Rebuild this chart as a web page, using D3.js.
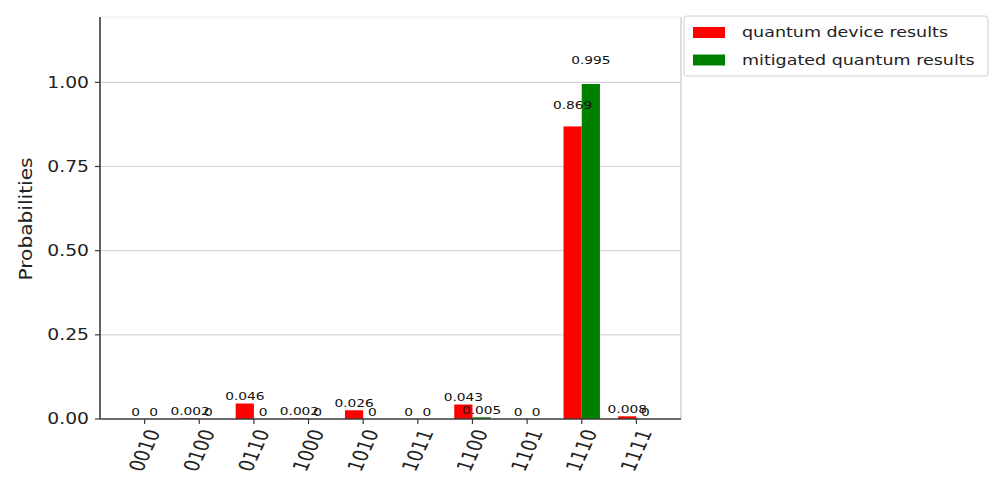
<!DOCTYPE html>
<html>
<head>
<meta charset="utf-8">
<script src="https://cdn.jsdelivr.net/npm/d3@7"></script>
<style>
  html, body { margin: 0; padding: 0; background: #fff; }
  svg { display: block; font-family: "DejaVu Sans", sans-serif; }
</style>
</head>
<body>
<svg id="chart" width="990" height="486"></svg>
<script>
// Measured basis states
const states = ["0010", "0100", "0110", "1000", "1010", "1011", "1100", "1101", "1110", "1111"];
// Raw device probabilities
const deviceValues = [0, 0.002, 0.046, 0.002, 0.026, 0, 0.043, 0, 0.869, 0.008];
// Error-mitigated probabilities
const mitigatedValues = [0, 0, 0, 0, 0, 0, 0.005, 0, 0.995, 0];
const seriesNames = ["quantum device results", "mitigated quantum results"];
const seriesColors = ["#ff0000", "#008000"];
const yTicks = [0, 0.25, 0.5, 0.75, 1.0];

const series = [deviceValues, mitigatedValues];
const nSeries = series.length;
const barW = 1 / (nSeries + 1);           // bar width in category units
const barCenterOffset = (barW / 2) * (nSeries - 1);

// Text is drawn slightly wide
const SX = 1.25;

const plot = { left: 100, right: 681, top: 17, bottom: 419 };

const svg = d3.select("#chart");

const yMax = d3.max(series.flat()) * 1.2;
const y = d3.scaleLinear().domain([0, yMax]).range([plot.bottom, plot.top]);

// x extent: bars span [-w/2, n-1 + (nSeries-1)*w + w/2], plus 5% margins
const xMinData = -barW / 2;
const xMaxData = (states.length - 1) + (nSeries - 1) * barW + barW / 2;
const pad = (xMaxData - xMinData) * 0.05;
const x = d3.scaleLinear().domain([xMinData - pad, xMaxData + pad]).range([plot.left, plot.right]);

// horizontal grid
svg.append("g")
  .selectAll("line")
  .data(yTicks.filter(t => t > 0))
  .join("line")
  .attr("x1", plot.left).attr("x2", plot.right)
  .attr("y1", d => y(d)).attr("y2", d => y(d))
  .attr("stroke", "#d4d4d4").attr("stroke-width", 1.2);

// light top/right frame
svg.append("line")
  .attr("x1", plot.left).attr("x2", plot.right)
  .attr("y1", plot.top).attr("y2", plot.top)
  .attr("stroke", "#ececec").attr("stroke-width", 1);
svg.append("line")
  .attr("x1", plot.right).attr("x2", plot.right)
  .attr("y1", plot.top).attr("y2", plot.bottom)
  .attr("stroke", "#c8c8c8").attr("stroke-width", 1.2);

// bars
series.forEach((vals, si) => {
  svg.append("g")
    .selectAll("rect")
    .data(vals.map((v, i) => ({ v, i })))
    .join("rect")
    .attr("x", d => x(d.i + si * barW - barW / 2))
    .attr("width", d => x(d.i + si * barW + barW / 2) - x(d.i + si * barW - barW / 2))
    .attr("y", d => y(d.v))
    .attr("height", d => y(0) - y(d.v))
    .attr("fill", seriesColors[si]);
});

// value labels above bars
series.forEach((vals, si) => {
  svg.append("g")
    .selectAll("text")
    .data(vals.map((v, i) => ({ v, i })))
    .join("text")
    .attr("transform", d => `translate(${x(d.i + si * barW)},${y(1.05 * d.v) - 3}) scale(${SX},1)`)
    .attr("text-anchor", "middle")
    .attr("font-size", 11)
    .attr("fill", "#111")
    .text(d => d.v >= 1e-3 ? d.v.toFixed(3) : "0");
});

// y axis
const yAxis = svg.append("g").attr("transform", `translate(${plot.left},0)`);
yAxis.append("line")
  .attr("x1", 0).attr("x2", 0).attr("y1", plot.top).attr("y2", plot.bottom)
  .attr("stroke", "#3a3a3a").attr("stroke-width", 1.6);
const yt = yAxis.selectAll("g.tick").data(yTicks).join("g")
  .attr("class", "tick")
  .attr("transform", d => `translate(0,${y(d)})`);
yt.append("line").attr("x1", -5).attr("x2", 0).attr("stroke", "#3a3a3a").attr("stroke-width", 1.2);
yt.append("text")
  .attr("transform", `translate(-11,0) scale(${SX},1)`)
  .attr("text-anchor", "end")
  .attr("dy", "0.36em")
  .attr("font-size", 15)
  .attr("fill", "#222")
  .text(d => d3.format(".2f")(d));

svg.append("text")
  .attr("transform", `translate(32,219) rotate(-90) scale(1.12,1)`)
  .attr("text-anchor", "middle")
  .attr("font-size", 18)
  .attr("fill", "#222")
  .text("Probabilities");

// x axis
const xAxis = svg.append("g");
xAxis.append("line")
  .attr("x1", plot.left).attr("x2", plot.right).attr("y1", plot.bottom).attr("y2", plot.bottom)
  .attr("stroke", "#3a3a3a").attr("stroke-width", 1.6);
const xt = xAxis.selectAll("g.tick").data(states).join("g")
  .attr("class", "tick")
  .attr("transform", (d, i) => `translate(${x(i + barCenterOffset)},${plot.bottom})`);
xt.append("line").attr("y1", 0).attr("y2", 5).attr("stroke", "#3a3a3a").attr("stroke-width", 1.2);

const xFont = 17;
const ang = 70 * Math.PI / 180;
xt.append("text")
  .attr("font-size", xFont)
  .attr("fill", "#222")
  .attr("text-anchor", "middle")
  .attr("dominant-baseline", "central")
  .text(d => d)
  .attr("transform", function () {
    const L = this.getComputedTextLength();
    const h = xFont * 0.75;
    const ext = L * Math.sin(ang) + h * Math.cos(ang);
    return `translate(0,${9 + ext / 2}) scale(${SX},1) rotate(-70)`;
  });

// legend
const lg = svg.append("g");
lg.append("rect")
  .attr("x", 684).attr("y", 16).attr("width", 304).attr("height", 60)
  .attr("rx", 3).attr("fill", "#fff").attr("stroke", "#d0d0d0").attr("stroke-width", 1);
const rows = lg.selectAll("g.row").data(seriesNames).join("g")
  .attr("class", "row")
  .attr("transform", (d, i) => `translate(693,${32.5 + i * 27.5})`);
rows.append("rect")
  .attr("x", 0).attr("y", -5.5).attr("width", 32).attr("height", 11)
  .attr("fill", (d, i) => seriesColors[i]);
rows.append("text")
  .attr("transform", `translate(49,0) scale(${SX},1)`)
  .attr("dy", "0.35em")
  .attr("font-size", 14)
  .attr("fill", "#222")
  .text(d => d);
</script>
</body>
</html>
